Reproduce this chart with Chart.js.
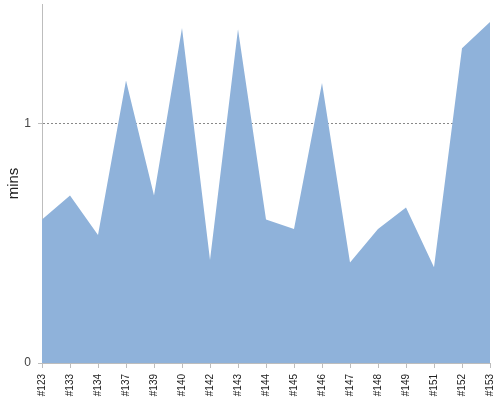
<!DOCTYPE html>
<html>
<head>
<meta charset="utf-8">
<script src="https://cdn.jsdelivr.net/npm/chart.js@4"></script>
<style>
  body { margin: 0; background: #fff; }
  #wrap { width: 500px; height: 400px; }
</style>
</head>
<body>
<div id="wrap"><canvas id="chart"></canvas></div>
<script>
// build numbers on x, minutes on y
var builds = ['#123', '#133', '#134', '#137', '#139', '#140', '#142', '#143', '#144', '#145', '#146', '#147', '#148', '#149', '#151', '#152', '#153'];
var minutes = [0.60, 0.70, 0.535, 1.18, 0.70, 1.40, 0.43, 1.395, 0.60, 0.56, 1.17, 0.42, 0.56, 0.65, 0.40, 1.315, 1.425];
var yTicks = [0, 1];

var axisGrey = '#bdbdbd';
var font = 'Arial, "Liberation Sans", sans-serif';

var chart = new Chart(document.getElementById('chart'), {
    type: 'line',
    data: {
        labels: builds,
        datasets: [{
            label: 'mins',
            data: minutes,
            fill: 'origin',
            backgroundColor: '#8fb2da',
            borderWidth: 0,
            pointRadius: 0,
            tension: 0
        }]
    },
    options: {
        responsive: true,
        maintainAspectRatio: false,
        animation: false,
        layout: { padding: { top: 4, right: 10, left: 0, bottom: 0 } },
        plugins: {
            legend: { display: false },
            tooltip: { enabled: false }
        },
        scales: {
            x: {
                offset: false,
                border: { display: true, color: axisGrey },
                grid: { drawOnChartArea: false, tickLength: 5, tickColor: axisGrey },
                afterFit: function (axis) {
                    axis.height = 37;
                    axis.paddingLeft = 0;
                    axis.paddingRight = 0;
                },
                ticks: {
                    minRotation: 90,
                    maxRotation: 90,
                    autoSkip: false,
                    padding: 6,
                    color: '#222',
                    font: { family: font, size: 10 }
                }
            },
            y: {
                min: 0,
                max: 1.5,
                border: { display: true, color: axisGrey, dash: [2, 2] },
                grid: {
                    color: function (ctx) { return ctx.tick && ctx.tick.value === yTicks[1] ? '#888' : 'rgba(0,0,0,0)'; },
                    tickLength: 4,
                    tickColor: axisGrey,
                    tickBorderDash: []
                },
                afterBuildTicks: function (axis) {
                    axis.ticks = yTicks.map(function (v) { return { value: v }; });
                },
                afterFit: function (axis) {
                    axis.width = 42;
                    axis.paddingTop = 0;
                    axis.paddingBottom = 0;
                },
                ticks: {
                    color: '#444',
                    padding: 7,
                    font: { family: font, size: 12 }
                },
                title: {
                    display: true,
                    text: 'mins',
                    color: '#222',
                    padding: { top: 5, bottom: 0 },
                    font: { family: font, size: 15 }
                }
            }
        }
    }
});
</script>
</body>
</html>
